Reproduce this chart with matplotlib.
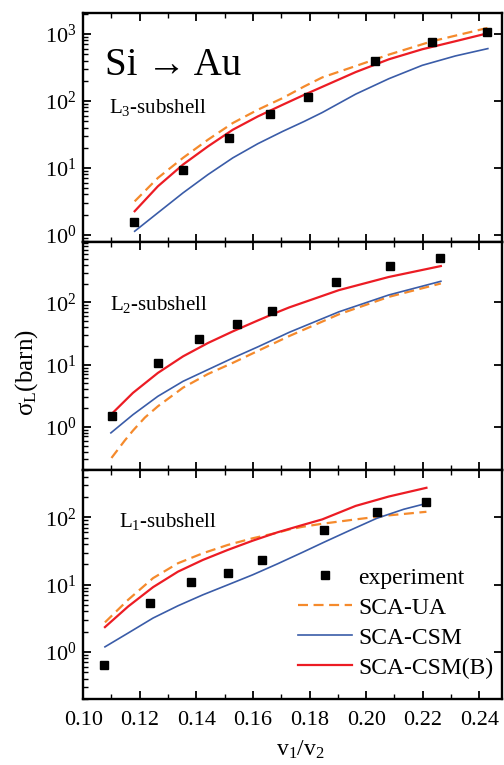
import numpy as np
import matplotlib
matplotlib.use("Agg")
from matplotlib import pyplot as plt
from matplotlib.ticker import MultipleLocator, LogLocator, NullFormatter

plt.rcParams['font.family'] = ['Liberation Serif', 'DejaVu Serif']
plt.rcParams['mathtext.fontset'] = 'custom'
plt.rcParams['mathtext.rm'] = 'Liberation Serif'
plt.rcParams['mathtext.it'] = 'Liberation Serif:italic'

# ---- L3 subshell ----
l3_exp_x = [0.118, 0.1352, 0.1514, 0.1659, 0.1793, 0.2030, 0.2233, 0.2428]
l3_exp_y = [1.54, 9.3, 27.9, 63.6, 114, 387, 768, 1082]
l3_ua_x = [0.1182, 0.1264, 0.1353, 0.1441, 0.1529, 0.1617, 0.1705, 0.1781, 0.1845, 0.1963, 0.2080, 0.2233, 0.2430]
l3_ua_y = [3.16, 7.06, 14.1, 26.3, 46.7, 73.6, 110, 164, 224, 331, 490, 776, 1230]
l3_csm_x = [0.1182, 0.1264, 0.1353, 0.1441, 0.1529, 0.1617, 0.1705, 0.1781, 0.1845, 0.1963, 0.2080, 0.2198, 0.2315, 0.2430]
l3_csm_y = [1.13, 2.13, 4.23, 7.93, 14.1, 22.9, 35.0, 49.3, 67.0, 126, 214, 339, 468, 603]
l3_csmb_x = [0.1182, 0.1264, 0.1353, 0.1441, 0.1529, 0.1617, 0.1705, 0.1781, 0.1845, 0.1963, 0.2080, 0.2198, 0.2315, 0.2430]
l3_csmb_y = [2.25, 5.30, 11.2, 20.9, 37.1, 58.5, 87.5, 123, 162, 269, 417, 589, 776, 1023]

# ---- L2 subshell ----
l2_exp_x = [0.1101, 0.1263, 0.1411, 0.1545, 0.1669, 0.1892, 0.2083, 0.2262]
l2_exp_y = [1.52, 10.6, 26, 45, 74, 214, 392, 527]
l2_ua_x = [0.1100, 0.1147, 0.1176, 0.1218, 0.1264, 0.1353, 0.1441, 0.1529, 0.1617, 0.1728, 0.1904, 0.2080, 0.2264]
l2_ua_y = [0.316, 0.603, 0.871, 1.41, 2.14, 4.27, 7.08, 10.7, 16.6, 28.8, 64.6, 123, 202]
l2_csm_x = [0.1098, 0.1176, 0.1264, 0.1353, 0.1441, 0.1529, 0.1617, 0.1693, 0.1728, 0.1904, 0.2080, 0.2264]
l2_csm_y = [0.80, 1.57, 3.10, 5.40, 8.32, 12.8, 19.3, 27.9, 33.1, 70.8, 132, 219]
l2_csmb_x = [0.1098, 0.1176, 0.1264, 0.1353, 0.1441, 0.1529, 0.1617, 0.1693, 0.1728, 0.1904, 0.2080, 0.2264]
l2_csmb_y = [1.57, 3.52, 7.36, 13.6, 22.3, 34.3, 51.3, 71.8, 83.2, 158, 257, 385]

# ---- L1 subshell ----
l1_exp_x = [0.1074, 0.1235, 0.1380, 0.1512, 0.1633, 0.1851, 0.2037, 0.2213]
l1_exp_y = [0.65, 5.4, 11.1, 15.1, 23, 65, 120, 167]
l1_ua_x = [0.1077, 0.1159, 0.1247, 0.1335, 0.1423, 0.1511, 0.1599, 0.1687, 0.1728, 0.1775, 0.1845, 0.1963, 0.2080, 0.2213]
l1_ua_y = [2.75, 5.96, 12.5, 20.8, 29.3, 38.9, 48.9, 59.2, 66.1, 72.4, 80.4, 93.3, 107, 121]
l1_csm_x = [0.1077, 0.1159, 0.1247, 0.1335, 0.1423, 0.1511, 0.1599, 0.1687, 0.1728, 0.1775, 0.1851, 0.1939, 0.2037, 0.2133, 0.2213]
l1_csm_y = [1.19, 1.91, 3.19, 4.85, 7.06, 9.93, 14.0, 20.4, 24.5, 30.2, 42.7, 63.1, 96.6, 132, 161]
l1_csmb_x = [0.1077, 0.1159, 0.1247, 0.1335, 0.1423, 0.1511, 0.1599, 0.1687, 0.1775, 0.1845, 0.1963, 0.2080, 0.2213]
l1_csmb_y = [2.34, 4.74, 9.18, 15.6, 23.3, 32.8, 45.0, 60.0, 76.9, 93.3, 148, 204, 275]

panels = [
    (l3_exp_x, l3_exp_y, l3_ua_x, l3_ua_y, l3_csm_x, l3_csm_y, l3_csmb_x, l3_csmb_y, (0.79, 2050), 'L$_3$-subshell', (0.062, 0.585)),
    (l2_exp_x, l2_exp_y, l2_ua_x, l2_ua_y, l2_csm_x, l2_csm_y, l2_csmb_x, l2_csmb_y, (0.2, 950), 'L$_2$-subshell', (0.064, 0.725)),
    (l1_exp_x, l1_exp_y, l1_ua_x, l1_ua_y, l1_csm_x, l1_csm_y, l1_csmb_x, l1_csmb_y, (0.2, 500), 'L$_1$-subshell', (0.086, 0.778)),
]

orange = '#F58A2C'
blue = '#3A5CA8'
red = '#EC1C24'

fig = plt.figure(figsize=(5.04, 7.65), dpi=100)
gs = fig.add_gridspec(3, 1, left=0.165, right=0.996, top=0.983, bottom=0.0863, hspace=0)

axes = []
for i, p in enumerate(panels):
    ex, ey, ux, uy, cx, cy, bx, by, ylim, label, lpos = p
    ax = fig.add_subplot(gs[i])
    axes.append(ax)
    ax.plot(ux, uy, color=orange, lw=1.6, linestyle=(0, (4.5, 2.5)), label='SCA-UA')
    ax.plot(cx, cy, color=blue, lw=1.2, label='SCA-CSM')
    ax.plot(bx, by, color=red, lw=1.6, label='SCA-CSM(B)')
    ax.plot(ex, ey, 's', color='black', ms=6, label='experiment', zorder=5)
    ax.set_yscale('log')
    ax.set_ylim(*ylim)
    ax.set_xlim(0.10, 0.248)
    ax.xaxis.set_major_locator(MultipleLocator(0.02))
    ax.xaxis.set_minor_locator(MultipleLocator(0.01))
    ax.yaxis.set_major_locator(LogLocator(base=10))
    ax.yaxis.set_minor_locator(LogLocator(base=10, subs=np.arange(2, 10)))
    ax.yaxis.set_minor_formatter(NullFormatter())
    ax.tick_params(which='both', direction='in', top=True, right=True, labelsize=16)
    ax.tick_params(which='major', length=6, width=1.3)
    ax.tick_params(which='minor', length=3.5, width=1.0, right=False)
    ax.tick_params(axis='x', pad=9)
    ax.tick_params(axis='y', pad=5)
    for s in ax.spines.values():
        s.set_linewidth(1.7)
    ax.text(lpos[0], lpos[1], label, transform=ax.transAxes, fontsize=15,
            ha='left', va='center')
    if i < 2:
        ax.tick_params(labelbottom=False)

axes[0].text(0.052, 0.77, 'Si \u2192 Au', transform=axes[0].transAxes, fontsize=28,
             ha='left', va='center')

h, l = axes[2].get_legend_handles_labels()
order = [3, 0, 1, 2]
axes[2].legend([h[k] for k in order], [l[k] for k in order], loc='center left',
               bbox_to_anchor=(0.513, 0.333), frameon=False, fontsize=17,
               handlelength=2.3, handletextpad=0.25, labelspacing=0.36,
               borderpad=0, borderaxespad=0)

fig.text(27 / 504, 1 - 373 / 765, '\u03c3$_\\mathrm{L}$(barn)', rotation=90,
         fontsize=18, ha='center', va='center')
fig.text(300 / 504, 1 - 750 / 765, 'v$_1$/v$_2$', fontsize=17, ha='center', va='center')

fig.savefig('out.png', dpi=100)
